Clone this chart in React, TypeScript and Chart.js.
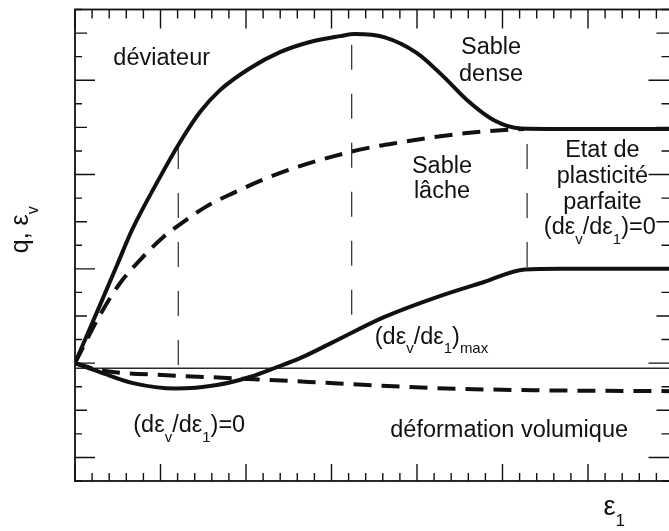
import React, { useEffect, useRef } from "react";
import { Chart, registerables } from "chart.js";

Chart.register(...registerables);

// ---------- data (axis units = minor tick intervals) ----------
const xRange = [0, 35];
const yRange = [-5, 15];

// deviator q, dense sand (solid)
const denseDevX = [0, 1.46, 2.46, 3.33, 4.97, 6.14, 7.31, 8.48, 10.23, 11.99, 13.74, 15.5, 16.37, 18.07, 20.0, 21.58, 22.92, 24.5, 26.08, 28.36, 35];
const denseDevY = [0, 2.46, 4.16, 5.64, 7.89, 9.37, 10.65, 11.58, 12.51, 13.19, 13.62, 13.87, 13.96, 13.83, 13.15, 12.13, 11.16, 10.3, 9.95, 9.93, 9.93];

// deviator q, loose sand (dashed)
const looseDevX = [0, 1.46, 2.63, 3.8, 5.15, 6.16, 7.72, 9.24, 11.23, 13.16, 15.15, 17.08, 19.06, 21.0, 22.92, 24.91, 26.26];
const looseDevY = [0, 2.04, 3.39, 4.37, 5.34, 5.9, 6.66, 7.21, 7.85, 8.36, 8.78, 9.12, 9.37, 9.59, 9.76, 9.88, 9.93];

// volumetric strain, dense sand (solid)
const denseVolX = [0, 1.46, 3.39, 5.9, 8.3, 10.23, 11.81, 13.16, 15.09, 18.07, 21.0, 23.92, 26.3, 28.4, 35];
const denseVolY = [0, -0.38, -0.85, -1.08, -0.93, -0.59, -0.17, 0.21, 0.89, 1.95, 2.76, 3.44, 3.97, 4.0, 4.0];

// volumetric strain, loose sand (dashed)
const looseVolX = [0, 1.46, 5.38, 9.24, 15.15, 21.0, 26.84, 35];
const looseVolY = [0, -0.3, -0.51, -0.64, -0.85, -1.06, -1.15, -1.19];

// horizontal reference line
const refLineX = [0, 35];
const refLineY = [-0.22, -0.22];

// vertical dashed guides: x, top y, bottom y
const guideX = [6.04, 16.18, 26.44];
const guideTop = [9.3, 13.5, 9.3];
const guideBottom = [-0.1, 1.4, 4.0];

// text annotations
type Run = { t: string; sub?: boolean };
type Note = { runs: Run[]; x: number; y: number; align: "center" | "left" };
const notes: Note[] = [
  { runs: [{ t: "déviateur" }], x: 5.07, y: 12.64, align: "center" },
  { runs: [{ t: "Sable" }], x: 24.33, y: 13.11, align: "center" },
  { runs: [{ t: "dense" }], x: 24.33, y: 11.96, align: "center" },
  { runs: [{ t: "Sable" }], x: 21.46, y: 8.06, align: "center" },
  { runs: [{ t: "lâche" }], x: 21.46, y: 7.0, align: "center" },
  { runs: [{ t: "Etat de" }], x: 30.84, y: 8.74, align: "center" },
  { runs: [{ t: "plasticité" }], x: 30.84, y: 7.64, align: "center" },
  { runs: [{ t: "parfaite" }], x: 30.84, y: 6.53, align: "center" },
  { runs: [{ t: "(dε" }, { t: "v", sub: true }, { t: "/dε" }, { t: "1", sub: true }, { t: ")=0" }], x: 30.69, y: 5.47, align: "center" },
  { runs: [{ t: "(dε" }, { t: "v", sub: true }, { t: "/dε" }, { t: "1", sub: true }, { t: ")=0" }], x: 6.68, y: -2.93, align: "center" },
  { runs: [{ t: "(dε" }, { t: "v", sub: true }, { t: "/dε" }, { t: "1", sub: true }, { t: ")" }, { t: "max", sub: true }], x: 17.53, y: 0.81, align: "left" },
  { runs: [{ t: "déformation volumique" }], x: 25.39, y: -3.14, align: "center" },
];
const xTitle: Run[] = [{ t: "ε" }, { t: "1", sub: true }];
const xTitlePos = [31.37, -6.45];
const yTitle: Run[] = [{ t: "q, ε" }, { t: "v", sub: true }];

const CANVAS_W = 680;
const CANVAS_H = 531;
const FAMILY = '"Liberation Sans", Arial, Helvetica, sans-serif';
const INK = "#111";

function font(px: number) {
  return `${px}px ${FAMILY}`;
}

function drawRich(ctx: CanvasRenderingContext2D, runs: Run[], x: number, y: number, align: string, mainPx: number) {
  const subPx = Math.round(mainPx * 0.62);
  const subDy = mainPx * 0.4;
  const widths = runs.map((r) => {
    ctx.font = font(r.sub ? subPx : mainPx);
    return ctx.measureText(r.t).width;
  });
  const total = widths.reduce((a, b) => a + b, 0);
  let cx = align === "center" ? x - total / 2 : x;
  ctx.textAlign = "left";
  ctx.textBaseline = "alphabetic";
  runs.forEach((r, i) => {
    ctx.font = font(r.sub ? subPx : mainPx);
    ctx.fillText(r.t, cx, r.sub ? y + subDy : y);
    cx += widths[i];
  });
}

const framePlugin = {
  id: "frameAndText",
  afterDraw(chart: any) {
    const ctx: CanvasRenderingContext2D = chart.ctx;
    const xs = chart.scales.x;
    const ys = chart.scales.y;
    const { left, right, top, bottom } = chart.chartArea;
    ctx.save();
    ctx.strokeStyle = INK;
    ctx.lineWidth = 1.8;
    ctx.strokeRect(left, top, right - left, bottom - top);
    ctx.lineWidth = 1.4;
    ctx.beginPath();
    for (let v = xs.min; v <= xs.max; v++) {
      const px = xs.getPixelForValue(v);
      const major = v % 5 === 0;
      ctx.moveTo(px, bottom);
      ctx.lineTo(px, bottom - (major ? 17 : 8));
      ctx.moveTo(px, top);
      ctx.lineTo(px, top + (major ? 19 : 9));
    }
    for (let v = ys.min; v <= ys.max; v++) {
      const py = ys.getPixelForValue(v);
      const len = v % 4 === 0 ? 20 : v % 2 === 0 ? 12 : 7;
      ctx.moveTo(left, py);
      ctx.lineTo(left + len, py);
      ctx.moveTo(right, py);
      ctx.lineTo(right - len - 5, py);
    }
    ctx.stroke();

    ctx.fillStyle = INK;
    notes.forEach((n) => {
      drawRich(ctx, n.runs, xs.getPixelForValue(n.x), ys.getPixelForValue(n.y), n.align, 23.5);
    });
    drawRich(ctx, xTitle, xs.getPixelForValue(xTitlePos[0]) - 8, ys.getPixelForValue(xTitlePos[1]), "left", 27);

    ctx.translate(left - 47, (top + bottom) / 2 + 8);
    ctx.rotate(-Math.PI / 2);
    drawRich(ctx, yTitle, 0, 0, "left", 25);
    ctx.restore();
  },
};

function pts(xa: number[], ya: number[]) {
  return xa.map((x, i) => ({ x, y: ya[i] }));
}

export default function App() {
  const ref = useRef<HTMLCanvasElement | null>(null);
  useEffect(() => {
    if (!ref.current) return;
    const curve = (data: any, dashed: boolean) => ({
      data,
      borderColor: INK,
      borderWidth: 4,
      borderDash: dashed ? [18, 10] : [],
      pointRadius: 0,
      cubicInterpolationMode: "monotone" as const,
      fill: false,
    });
    const guides = guideX.map((gx, i) => ({
      data: pts([gx, gx], [guideTop[i], guideBottom[i]]),
      borderColor: "#3a3a3a",
      borderWidth: 1.3,
      borderDash: [25, 24],
      pointRadius: 0,
      fill: false,
    }));
    const chart = new Chart(ref.current, {
      type: "line",
      data: {
        datasets: [
          curve(pts(denseDevX, denseDevY), false),
          curve(pts(looseDevX, looseDevY), true),
          curve(pts(denseVolX, denseVolY), false),
          curve(pts(looseVolX, looseVolY), true),
          {
            data: pts(refLineX, refLineY),
            borderColor: "#2a2a2a",
            borderWidth: 1.4,
            pointRadius: 0,
            fill: false,
          },
          ...guides,
        ] as any,
      },
      options: {
        responsive: false,
        animation: false,
        devicePixelRatio: 1,
        events: [],
        layout: { padding: { left: 75, top: 9.5, right: CANVAS_W - 673.5, bottom: CANVAS_H - 481 } },
        plugins: { legend: { display: false }, tooltip: { enabled: false } },
        scales: {
          x: { type: "linear", min: xRange[0], max: xRange[1], display: false },
          y: { type: "linear", min: yRange[0], max: yRange[1], display: false },
        },
      },
      plugins: [framePlugin],
    });
    return () => chart.destroy();
  }, []);
  return (
    <div style={{ position: "fixed", left: 0, top: 0, width: 669, height: 531, overflow: "hidden", background: "#fff" }}>
      <canvas ref={ref} width={CANVAS_W} height={CANVAS_H} style={{ width: CANVAS_W, height: CANVAS_H, display: "block" }} />
    </div>
  );
}
